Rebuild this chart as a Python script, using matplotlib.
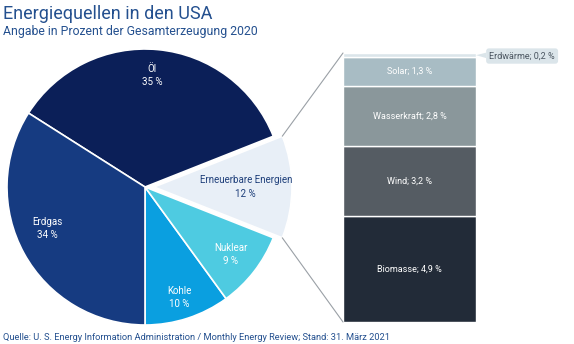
import numpy as np
import matplotlib
matplotlib.use("Agg")
import matplotlib.pyplot as plt
from matplotlib.patches import ConnectionPatch

plt.rcParams['font.family'] = ['Roboto', 'DejaVu Sans']

# data
pie_labels = ["Kohle", "Nuklear", "Erneuerbare Energien", "Öl", "Erdgas"]
pie_values = [10, 9, 12, 35, 34]
pie_colors = ["#0a9fe0", "#4ecbe1", "#e8eff7", "#0b1f58", "#163b81"]
pie_text_colors = ["white", "white", "#1e3f7a", "white", "white"]
pie_explode = [0, 0, 0.065, 0, 0]

bar_labels = ["Biomasse", "Wind", "Wasserkraft", "Solar", "Erdwärme"]
bar_values = [4.9, 3.2, 2.8, 1.3, 0.2]
bar_colors = ["#222b38", "#555c63", "#8a979b", "#a8bcc4", "#dbe5ea"]

W, H = 574, 344
fig = plt.figure(figsize=(W / 100, H / 100), dpi=100)

# pie axes (center ~ (145,187) px, radius 138 px)
cx, cy, R = 145, 187, 138
ax = fig.add_axes([(cx - R) / W, (H - cy - R) / H, 2 * R / W, 2 * R / H])
wedges, _ = ax.pie(pie_values, colors=pie_colors, startangle=270, counterclock=True,
                   explode=pie_explode, radius=1,
                   wedgeprops=dict(edgecolor="white", linewidth=1.2))
ax.set_xlim(-1, 1)
ax.set_ylim(-1, 1)
ax.set_aspect("equal")
ax.axis("off")

label_pos = [(0.25, -0.80), (0.62, -0.49), (0.73, 0.0), (0.05, 0.81), (-0.71, -0.30)]
for lab, v, c, (x, y) in zip(pie_labels, pie_values, pie_text_colors, label_pos):
    ax.text(x, y, f"{lab}\n{v} %", ha="center", va="center", color=c, fontsize=7,
            linespacing=1.4)

# stacked bar axes
bx0, bx1, by0, by1 = 343, 476, 53, 322
total = sum(bar_values)
bax = fig.add_axes([bx0 / W, (H - by1) / H, (bx1 - bx0) / W, (by1 - by0) / H])
bottom = 0
for lab, v, c in zip(bar_labels, bar_values, bar_colors):
    bax.bar(0, v, bottom=bottom, width=1, color=c, edgecolor="white", linewidth=1)
    if lab != "Erdwärme":
        bax.text(0, bottom + v / 2, f"{lab}; {str(v).replace('.', ',')} %", ha="center",
                 va="center", color="white", fontsize=6.5)
    bottom += v
bax.set_xlim(-0.5, 0.5)
bax.set_ylim(0, total)
bax.axis("off")

bax.annotate("Erdwärme; 0,2 %", xy=(0.5, total - 0.1), xycoords="data",
             xytext=(0.6, total - 0.14), textcoords="data", ha="left", va="center",
             fontsize=6.5, color="#4a5560",
             bbox=dict(boxstyle="round,pad=0.35,rounding_size=0.3", fc="#dbe5ea", ec="none"),
             arrowprops=dict(arrowstyle="wedge,tail_width=0.6,shrink_factor=0.5",
                             fc="#dbe5ea", ec="none", shrinkA=0, shrinkB=0),
             annotation_clip=False)

# connector lines
theta1 = np.deg2rad(270 + 360 * sum(pie_values[:2]) / 100)
theta2 = np.deg2rad(270 + 360 * sum(pie_values[:3]) / 100)
e = pie_explode[2]
pA = (e + np.cos(theta2), np.sin(theta2))
pB = (e + np.cos(theta1), np.sin(theta1))
for p, yb in [(pA, total), (pB, 0)]:
    con = ConnectionPatch(xyA=p, coordsA=ax.transData, xyB=(-0.5, yb), coordsB=bax.transData,
                          color="#9aa0a6", linewidth=0.8)
    fig.add_artist(con)

# texts
tc = "#24508f"
fig.text(3 / W, 1 - 14 / H, "Energiequellen in den USA", fontsize=13, color=tc,
         ha="left", va="center")
fig.text(3 / W, 1 - 32 / H, "Angabe in Prozent der Gesamterzeugung 2020", fontsize=8.8,
         color=tc, ha="left", va="center")
fig.text(3 / W, 1 - 337 / H,
         "Quelle: U. S. Energy Information Administration / Monthly Energy Review; Stand: 31. März 2021",
         fontsize=6.7, color=tc, ha="left", va="center")

fig.savefig("out.png", dpi=100)
